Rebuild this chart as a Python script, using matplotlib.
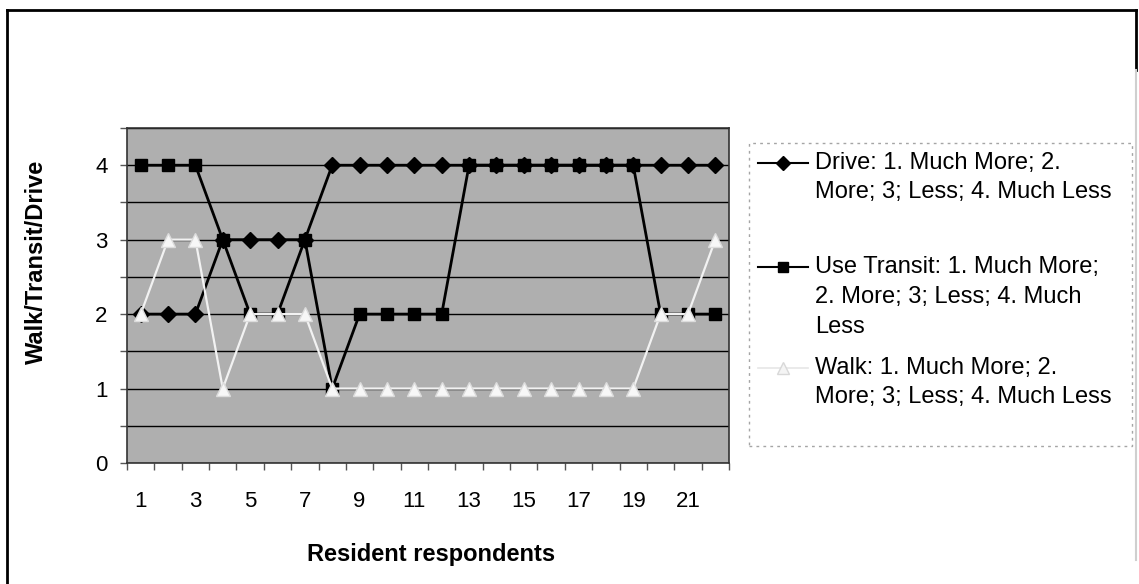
import numpy as np
import matplotlib.pyplot as plt
from matplotlib.lines import Line2D
from matplotlib.patches import Rectangle

plt.rcParams['font.family'] = ['Liberation Sans', 'DejaVu Sans']

# Respuestas por residente (1 = Much More ... 4 = Much Less)
respondents = list(range(1, 23))
drive = [2, 2, 2, 3, 3, 3, 3, 4, 4, 4, 4, 4, 4, 4, 4, 4, 4, 4, 4, 4, 4, 4]
transit = [4, 4, 4, 3, 2, 2, 3, 1, 2, 2, 2, 2, 4, 4, 4, 4, 4, 4, 4, 2, 2, 2]
walk = [2, 3, 3, 1, 2, 2, 2, 1, 1, 1, 1, 1, 1, 1, 1, 1, 1, 1, 1, 2, 2, 3]

x_ticks = [1, 3, 5, 7, 9, 11, 13, 15, 17, 19, 21]
y_ticks = [0, 1, 2, 3, 4]

drive_label = ["Drive: 1. Much More; 2.", "More; 3; Less; 4. Much Less"]
transit_label = ["Use Transit: 1. Much More;", "2. More; 3; Less; 4. Much", "Less"]
walk_label = ["Walk: 1. Much More; 2.", "More; 3; Less; 4. Much Less"]

W, H = 1139, 584
fig = plt.figure(figsize=(W / 100, H / 100), dpi=100)

def fx(px):
    return px / W

def fy(py):
    return 1 - py / H

# area do grafico
left, right, top, bottom = 127, 729, 128, 463
ax = fig.add_axes([fx(left), fy(bottom), fx(right - left), (bottom - top) / H])
ax.set_facecolor('#afafaf')

ax.plot(respondents, drive, color='black', lw=2, marker='D', ms=8,
        mfc='black', mec='black', zorder=3)
ax.plot(respondents, transit, color='black', lw=2, marker='s', ms=8.5,
        mfc='black', mec='black', zorder=3)
ax.plot(respondents, walk, color='#f2f2f2', lw=1.6, marker='^', ms=10,
        mfc='#f7f7f7', mec='#dcdcdc', zorder=4)

ax.set_xlim(0.5, 22.5)
ax.set_ylim(0, 4.5)

ax.set_xticks(x_ticks)
ax.set_xticks(np.arange(0.5, 23, 1), minor=True)
ax.tick_params(axis='x', which='major', length=0, pad=20, labelsize=16)
ax.tick_params(axis='x', which='minor', length=5, color='#555555', width=1)

ax.set_yticks(y_ticks)
ax.set_yticks(np.arange(0, 4.6, 0.5), minor=True)
ax.tick_params(axis='y', which='both', length=5, color='#555555', width=1)
ax.tick_params(axis='y', which='major', pad=9, labelsize=16)

ax.grid(True, axis='y', which='both', color='black', lw=1)
ax.set_axisbelow(True)
for s in ax.spines.values():
    s.set_color('#333333')
    s.set_linewidth(1.2)

ax.set_xlabel('Resident respondents', fontsize=17, fontweight='bold')
ax.xaxis.set_label_coords(0.505, -0.24)
ax.set_ylabel('Walk/Transit/Drive', fontsize=17, fontweight='bold')
ax.yaxis.set_label_coords(-0.131, 0.6)

# legenda desenhada a mao
fig.add_artist(Rectangle((fx(749), fy(446)), fx(1132 - 749), (446 - 143) / H,
                         fill=False, ec='#a5a5a5', lw=1, ls=(0, (2, 3)),
                         transform=fig.transFigure))

def entry(lines, ys, color, marker, ms, mfc, mec, lw):
    fig.add_artist(Line2D([fx(758), fx(783), fx(808)], [fy(ys[0])] * 3,
                          color=color, lw=lw, marker=marker, ms=ms, mfc=mfc,
                          mec=mec, markevery=[1], transform=fig.transFigure))
    for t, y in zip(lines, ys):
        fig.text(fx(815), fy(y), t, fontsize=17, va='center', ha='left')

entry(drive_label, [163, 192], 'black', 'D', 7, 'black', 'black', 1.5)
entry(transit_label, [267, 297, 327], 'black', 's', 7, 'black', 'black', 1.5)
entry(walk_label, [368, 397], '#e6e6e6', '^', 8, '#f4f4f4', '#d8d8d8', 1.2)

# moldura da figura
fig.add_artist(Line2D([fx(7), fx(7)], [fy(10), 0], color='black', lw=2,
                      transform=fig.transFigure))
fig.add_artist(Line2D([fx(7), fx(1136)], [fy(10), fy(10)], color='black', lw=2,
                      transform=fig.transFigure))
fig.add_artist(Line2D([fx(1136), fx(1136)], [fy(10), fy(70)], color='black', lw=2,
                      transform=fig.transFigure))
fig.add_artist(Line2D([fx(1136), fx(1136)], [fy(70), fy(560)], color='#cfcfcf', lw=1.5,
                      transform=fig.transFigure))

fig.savefig('out.png', dpi=100)
